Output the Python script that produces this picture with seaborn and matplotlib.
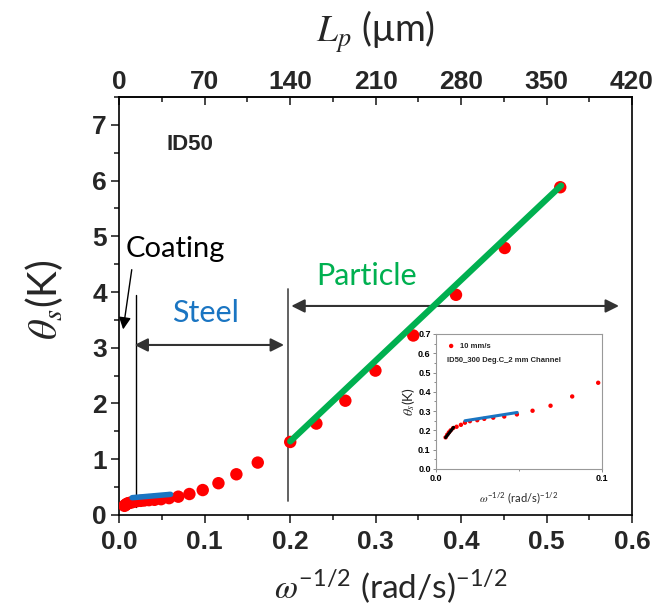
import numpy as np
import pandas as pd
import matplotlib
matplotlib.use('Agg')
import matplotlib.pyplot as plt
from matplotlib.ticker import MultipleLocator
import seaborn as sns

# ============================================
# DATA
# ============================================
omega_inv_sqrt = [0.006, 0.007, 0.008, 0.009, 0.0105, 0.0126, 0.0152, 0.0176, 0.0206,
                  0.025, 0.0292, 0.0346, 0.0412, 0.0488, 0.0582, 0.069, 0.082, 0.0976,
                  0.116, 0.137, 0.162, 0.200, 0.2306, 0.2645, 0.2997, 0.344, 0.394,
                  0.451, 0.516]
theta_s = [0.164, 0.178, 0.190, 0.200, 0.212, 0.219, 0.229, 0.240, 0.248,
           0.253, 0.260, 0.266, 0.272, 0.283, 0.302, 0.328, 0.376, 0.447,
           0.57, 0.73, 0.94, 1.31, 1.64, 2.05, 2.59, 3.22, 3.95,
           4.79, 5.88]

# linear fits
particle_fit_x = [0.200, 0.517]
particle_fit_y = [1.32, 5.91]
steel_fit_x = [0.015, 0.060]
steel_fit_y = [0.31, 0.37]
inset_steel_x = [0.0176, 0.049]
inset_steel_y = [0.250, 0.293]
inset_coat_x = [0.006, 0.0108]
inset_coat_y = [0.163, 0.216]

lp_ticks = [0, 70, 140, 210, 280, 350, 420]

df = pd.DataFrame({'x': omega_inv_sqrt, 'theta': theta_s})

RED = '#ff0000'
GREEN = '#00b050'
BLUE = '#1a75c2'

sns.set_style('ticks')
plt.rcParams['font.family'] = ['Lato', 'DejaVu Sans']
plt.rcParams['mathtext.fontset'] = 'stix'
plt.rcParams['axes.linewidth'] = 1.2

TICKFONT = {'family': 'Liberation Sans', 'weight': 'bold', 'size': 19}

fig = plt.figure(figsize=(6.6, 6.09), dpi=100)
ax = fig.add_axes([0.1808, 0.1544, 0.7768, 0.6864])

# ============================================
# MAIN PLOT
# ============================================
sns.scatterplot(data=df, x='x', y='theta', ax=ax, color=RED, s=80,
                edgecolor='none', zorder=3, legend=False)
sns.lineplot(x=particle_fit_x, y=particle_fit_y, ax=ax, color=GREEN, lw=4.5, zorder=4)
sns.lineplot(x=steel_fit_x, y=steel_fit_y, ax=ax, color=BLUE, lw=4, zorder=4)

ax.set_xlim(0, 0.6)
ax.set_ylim(0, 7.5)
ax.xaxis.set_minor_locator(MultipleLocator(0.05))
ax.yaxis.set_minor_locator(MultipleLocator(0.5))
ax.set_yticks(range(0, 8))
ax.set_xticks(np.arange(0, 0.61, 0.1))
ax.set_xticklabels([f'{v:.1f}' for v in np.arange(0, 0.61, 0.1)], fontdict=TICKFONT)
ax.set_yticklabels([str(v) for v in range(0, 8)], fontdict=TICKFONT)
ax.tick_params(which='major', direction='out', length=6, width=1.2, pad=3, top=False, right=False)
ax.tick_params(which='minor', direction='out', length=3.5, width=1.2, top=False, right=False)
ax.tick_params(axis='x', which='major', pad=5)
for sp in ax.spines.values():
    sp.set_visible(True)
    sp.set_color('black')

ax.set_xlabel(r'$\omega^{\mathregular{-1/2}}$ (rad/s)$^{\mathregular{-1/2}}$', fontsize=24)
ax.xaxis.set_label_coords(0.53, -0.125)
ax.set_ylabel(r'$\theta_s$(K)', fontsize=29)
ax.yaxis.set_label_coords(-0.105, 0.515)

# top axis: penetration length
secax = ax.secondary_xaxis('top', functions=(lambda x: x * 700, lambda l: l / 700))
secax.set_xticks(lp_ticks)
secax.set_xticklabels([str(v) for v in lp_ticks], fontdict=TICKFONT)
secax.xaxis.set_minor_locator(MultipleLocator(35))
secax.tick_params(which='major', direction='in', length=6, width=1.2, pad=2)
secax.tick_params(which='minor', direction='in', length=3.5, width=1.2)
secax.set_xlabel(r'$L_p$ (μm)', fontsize=27, labelpad=20)

# ============================================
# ANNOTATIONS
# ============================================
ax.text(0.083, 6.65, 'ID50', fontsize=16, fontweight='bold', family='Liberation Sans',
        ha='center', va='center')

ax.plot([0.0197, 0.0197], [0.15, 3.95], color='black', lw=1)
ax.plot([0.197, 0.197], [0.25, 4.05], color='#555555', lw=1.3)

ax.annotate('', xy=(0.0145, 3.05), xytext=(0.196, 3.05),
            arrowprops=dict(arrowstyle='<|-|>', color='#333333', lw=1.5, mutation_scale=20))
ax.annotate('', xy=(0.198, 3.75), xytext=(0.588, 3.75),
            arrowprops=dict(arrowstyle='<|-|>', color='#333333', lw=1.5, mutation_scale=20))
ax.annotate('', xy=(0.004, 3.28), xytext=(0.015, 4.45),
            arrowprops=dict(arrowstyle='-|>', color='black', lw=1, mutation_scale=18))

ax.text(0.007, 4.77, 'Coating', fontsize=21, color='black', ha='left', va='center')
ax.text(0.101, 3.63, 'Steel', fontsize=22, color=BLUE, ha='center', va='center')
ax.text(0.289, 4.29, 'Particle', fontsize=22, color=GREEN, ha='center', va='center')

# ============================================
# INSET (zoom on small omega^-1/2)
# ============================================
ax_in = fig.add_axes([0.660, 0.2299, 0.2524, 0.2217])
sns.scatterplot(data=df, x='x', y='theta', ax=ax_in, color=RED, s=10,
                edgecolor='none', zorder=3, label='10 mm/s')
sns.lineplot(x=inset_steel_x, y=inset_steel_y, ax=ax_in, color=BLUE, lw=2.2, zorder=4)
sns.lineplot(x=inset_coat_x, y=inset_coat_y, ax=ax_in, color='black', lw=2.2, zorder=4)
ax_in.set_xlim(0, 0.1)
ax_in.set_ylim(0, 0.7)
ax_in.set_xticks([0.0, 0.1])
ax_in.set_xticklabels(['0.0', '0.1'], fontsize=6.5, fontweight='bold', family='Liberation Sans')
ax_in.xaxis.set_minor_locator(MultipleLocator(0.05))
ax_in.set_yticks(np.arange(0, 0.71, 0.1))
ax_in.set_yticklabels([f'{v:.1f}' for v in np.arange(0, 0.71, 0.1)], fontsize=6.5,
                      fontweight='bold', family='Liberation Sans')
ax_in.yaxis.set_minor_locator(MultipleLocator(0.05))
ax_in.tick_params(which='major', direction='out', length=2.5, width=0.6, pad=1, colors='#777777',
                  labelcolor='black')
ax_in.tick_params(which='minor', direction='out', length=1.5, width=0.6, colors='#777777')
for sp in ax_in.spines.values():
    sp.set_visible(True)
    sp.set_color('#999999')
    sp.set_linewidth(0.8)
ax_in.set_xlabel(r'$\omega^{\mathregular{-1/2}}$ (rad/s)$^{\mathregular{-1/2}}$', fontsize=8, labelpad=5)
ax_in.set_ylabel(r'$\theta_s$(K)', fontsize=10, labelpad=1)
leg = ax_in.legend(loc='upper left', bbox_to_anchor=(0.02, 0.97), frameon=False,
                   handletextpad=0.2, borderaxespad=0.2,
                   prop={'family': 'Liberation Sans', 'weight': 'bold', 'size': 5.5})
ax_in.text(0.066, 0.805, 'ID50_300 Deg.C_2 mm Channel', transform=ax_in.transAxes,
           fontsize=5.5, fontweight='bold', family='Liberation Sans', va='center')

fig.savefig('out.png', dpi=100)
